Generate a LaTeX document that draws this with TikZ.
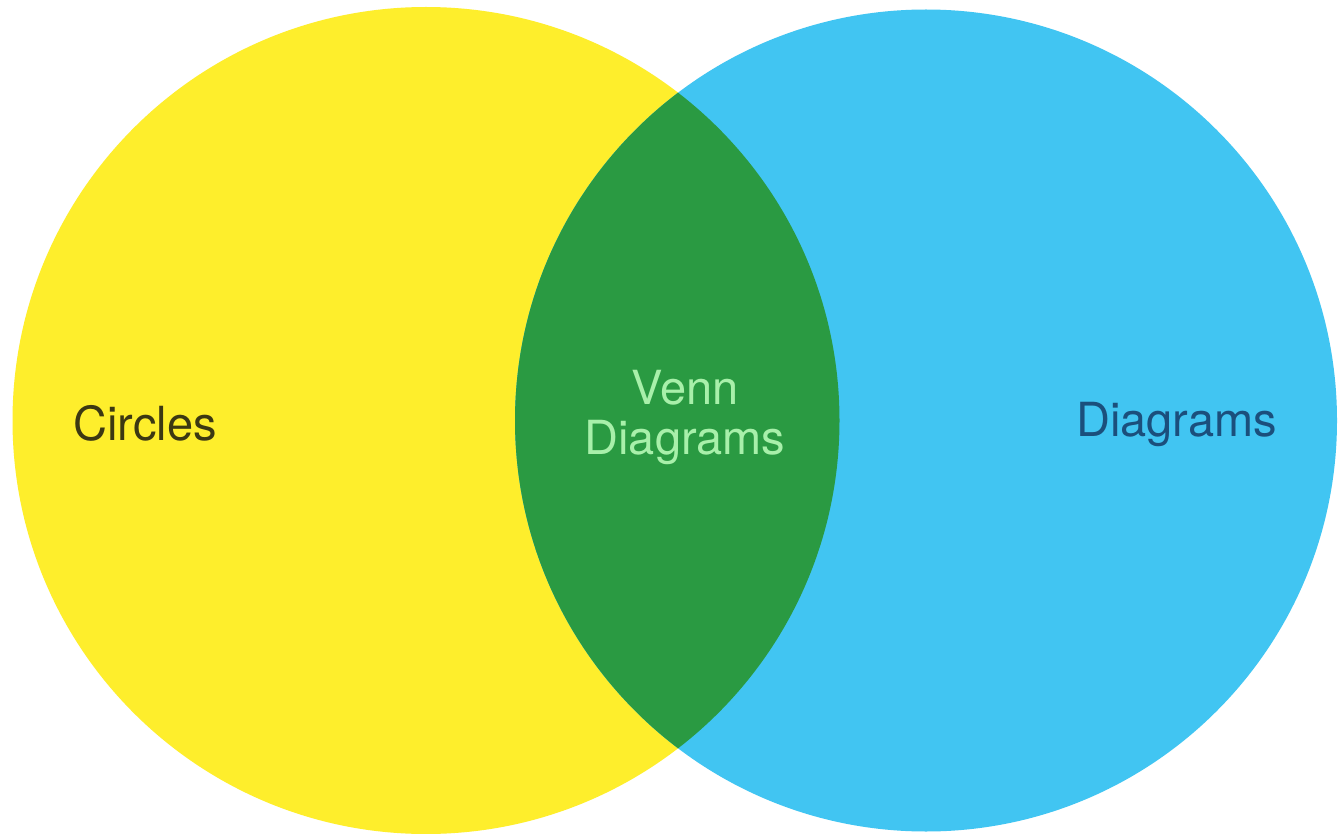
\documentclass[tikz,border=0pt]{standalone}
\usepackage{fontspec}
\setmainfont{TeX Gyre Heros}
\definecolor{setyellow}{HTML}{FEEE2C}
\definecolor{setblue}{HTML}{41C5F2}
\definecolor{setgreen}{HTML}{2A9A42}
\definecolor{labeldark}{HTML}{3C3812}
\definecolor{labelblue}{HTML}{1B4F7C}
\definecolor{labellight}{HTML}{A8F0AA}
\begin{document}
\begin{tikzpicture}[x=1pt,y=-1pt,
  setlabel/.style={inner sep=0pt, align=center, font=\fontsize{47}{50}\selectfont}]
  \useasboundingbox[fill=white] (0,0) rectangle (1338,834);
  % centres and radii of the two sets
  \coordinate (cleft) at (426,420.5);
  \coordinate (cright) at (926,420.5);
  \def\rleft{413.5}
  \def\rright{411}
  \fill[setyellow] (cleft) circle[radius=\rleft];
  \fill[setblue] (cright) circle[radius=\rright];
  % overlap of the two sets
  \begin{scope}
    \clip (cleft) circle[radius=\rleft];
    \fill[setgreen] (cright) circle[radius=\rright];
  \end{scope}
  \node[setlabel, text=labeldark] (circles) at (145,423) {Circles};
  \node[setlabel, text=labelblue] (diagrams) at (1176.5,424) {Diagrams};
  \node[setlabel, text=labellight] (venn) at (685,417) {Venn\\Diagrams};
\end{tikzpicture}
\end{document}
